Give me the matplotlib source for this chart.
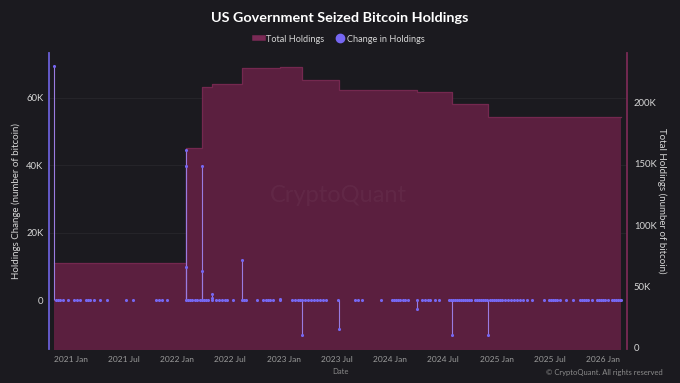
import pandas as pd
import matplotlib.pyplot as plt
from matplotlib.lines import Line2D
from matplotlib.ticker import FuncFormatter

# total holdings, step function (BTC)
holding_dates = ["2020-11-04", "2022-01-30", "2022-03-26", "2022-04-29", "2022-08-10",
                 "2022-12-19", "2023-03-06", "2023-07-08", "2024-04-02", "2024-07-31",
                 "2024-12-01", "2026-03-04"]
holding_values = [69370, 163000, 213000, 215000, 228500, 229300, 218700, 210600,
                  208700, 199000, 188600, 188600]

# change in holdings (BTC), one entry per dot
change_dates = [
    "2020-11-04", "2020-11-11", "2020-11-18", "2020-11-25", "2020-12-05", "2020-12-22",
    "2021-01-11", "2021-01-21", "2021-01-31", "2021-02-21", "2021-02-28", "2021-03-07",
    "2021-03-20", "2021-04-10", "2021-05-04", "2021-07-08", "2021-08-01",
    "2021-10-19", "2021-10-29", "2021-11-09", "2021-11-26",
    "2022-01-30", "2022-01-30", "2022-01-30", "2022-01-30",
    "2022-02-06", "2022-02-13", "2022-02-20", "2022-03-02", "2022-03-09", "2022-03-19",
    "2022-03-26", "2022-03-26", "2022-03-26",
    "2022-04-02", "2022-04-09", "2022-04-16",
    "2022-04-29", "2022-04-29", "2022-04-29",
    "2022-05-13", "2022-05-23", "2022-06-03", "2022-06-13", "2022-06-20",
    "2022-07-10", "2022-08-10", "2022-08-10", "2022-08-17", "2022-08-24", "2022-10-01",
    "2022-10-21", "2022-11-01", "2022-11-07", "2022-11-14", "2022-11-25",
    "2022-12-19", "2022-12-19",
    "2023-01-29", "2023-02-08", "2023-02-18", "2023-02-25", "2023-03-04", "2023-03-06",
    "2023-03-14", "2023-03-25", "2023-04-04", "2023-04-14", "2023-04-24", "2023-05-05",
    "2023-05-15", "2023-05-25", "2023-07-06", "2023-07-08",
    "2023-09-02", "2023-09-12", "2023-09-26", "2023-11-30",
    "2024-01-07", "2024-01-14", "2024-01-20", "2024-01-27", "2024-02-03",
    "2024-02-13", "2024-02-20", "2024-03-02", "2024-04-02", "2024-04-02",
    "2024-04-19", "2024-04-29", "2024-05-10", "2024-05-17", "2024-06-02", "2024-06-16",
    "2024-07-20", "2024-07-27", "2024-07-31", "2024-08-03", "2024-08-10", "2024-08-17",
    "2024-08-24", "2024-08-31", "2024-09-06", "2024-09-13", "2024-09-20", "2024-09-27",
    "2024-10-04", "2024-10-18", "2024-10-25", "2024-11-01", "2024-11-07", "2024-11-14",
    "2024-11-21", "2024-11-28", "2024-12-01", "2024-12-08", "2024-12-15", "2024-12-22",
    "2024-12-29", "2025-01-04", "2025-01-11", "2025-01-18", "2025-01-28", "2025-02-08",
    "2025-02-18", "2025-02-28", "2025-03-11", "2025-03-21", "2025-03-31", "2025-04-14",
    "2025-05-01", "2025-06-11", "2025-06-28", "2025-07-05", "2025-07-12", "2025-07-19",
    "2025-07-26", "2025-08-05", "2025-08-26", "2025-09-19", "2025-10-13", "2025-10-20",
    "2025-10-27", "2025-11-02", "2025-11-09", "2025-11-23", "2025-12-10", "2025-12-17",
    "2025-12-24", "2025-12-31", "2026-01-06", "2026-01-17", "2026-01-30", "2026-02-06",
    "2026-02-13", "2026-02-20", "2026-02-27", "2026-03-04",
]
change_values = [
    69370, 0, 0, 0, 0, 0,
    0, 0, 0, 0, 0, 0,
    0, 0, 0, 0, 0,
    0, 0, 0, 0,
    44400, 39700, 9800, 0,
    0, 0, 0, 0, 0, 0,
    39700, 8700, 0,
    0, 0, 0,
    1700, 600, 0,
    0, 0, 0, 0, 0,
    0, 11850, 0, 0, 0, 0,
    0, 0, 0, 0, 0,
    300, 0,
    0, 0, 0, 0, 0, -10400,
    0, 0, 0, 0, 0, 0,
    0, 0, 0, -8700,
    0, 0, 0, 0,
    0, 0, 0, 0, 0,
    0, 0, 0, -2600, 0,
    0, 0, 0, 0, 0, 0,
    0, 0, -10500, 0, 0, 0,
    0, 0, 0, 0, 0, 0,
    0, 0, 0, 0, 0, 0,
    0, 0, -10500, 0, 0, 0,
    0, 0, 0, 0, 0, 0,
    0, 0, 0, 0, 0, 0,
    0, 0, 0, 0, 0, 0,
    0, 0, 0, 0, 0, 0,
    0, 0, 0, 0, 0, 0,
    0, 0, 0, 0, 0, 0,
    0, 0, 0, 0,
]

left_ticks = [0, 20000, 40000, 60000]
right_ticks = [0, 50000, 100000, 150000, 200000]
x_tick_dates = ["2021-01-01", "2021-07-01", "2022-01-01", "2022-07-01", "2023-01-01",
                "2023-07-01", "2024-01-01", "2024-07-01", "2025-01-01", "2025-07-01",
                "2026-01-01"]
x_tick_labels = ["2021 Jan", "2021 Jul", "2022 Jan", "2022 Jul", "2023 Jan", "2023 Jul",
                 "2024 Jan", "2024 Jul", "2025 Jan", "2025 Jul", "2026 Jan"]

bg = "#1b1a1f"
fill_col = "#5b1f3f"
edge_col = "#74284f"
dot_col = "#7667f2"
stem_col = "#9a7be0"

plt.rcParams["font.family"] = ["Lato", "DejaVu Sans"]

hd = pd.to_datetime(holding_dates)
cd = pd.to_datetime(change_dates)
x0, x1 = pd.Timestamp("2020-10-18"), pd.Timestamp("2026-03-23")

fig = plt.figure(figsize=(6.8, 3.83), dpi=100, facecolor=bg)
ax = fig.add_axes([49 / 680, 1 - 349 / 383, 578 / 680, 296 / 383])
ax2 = ax.twinx()
ax.set_zorder(ax2.get_zorder() + 1)
ax.patch.set_visible(False)
ax2.set_facecolor(bg)

# holdings area
ax2.fill_between(hd, holding_values, -5000, step="post", color=fill_col, lw=0, zorder=2)
ax2.step(hd, holding_values, where="post", color=edge_col, lw=0.9, zorder=2)
ax2.set_ylim(-1000, 240500)
ax2.set_yticks(right_ticks)
ax2.yaxis.set_major_formatter(FuncFormatter(lambda v, p: "0" if v == 0 else f"{v/1000:.0f}K"))

# changes: stems + dots
nz = [(d, v) for d, v in zip(cd, change_values) if v != 0]
ax.vlines([d for d, v in nz], 0, [v for d, v in nz], color=stem_col, lw=0.8)
ax.scatter(cd, change_values, s=5, color=dot_col, zorder=3, lw=0)
ax.set_ylim(-14500, 73200)
ax.set_yticks(left_ticks)
ax.yaxis.set_major_formatter(FuncFormatter(lambda v, p: "0" if v == 0 else f"{v/1000:.0f}K"))
ax.set_xlim(x0, x1)
ax.set_xticks(pd.to_datetime(x_tick_dates))
ax.set_xticklabels(x_tick_labels)

# faint grid behind the area, at the left-axis ticks
for t in left_ticks[1:]:
    ax2.plot([x0, x1], [t, t], transform=ax.transData, color="#27262c", lw=0.6, zorder=1)

for a in (ax, ax2):
    for s in ("top", "bottom"):
        a.spines[s].set_visible(False)
    a.tick_params(length=0)
ax.spines["right"].set_visible(False)
ax.spines["left"].set_color("#6a5fd6")
ax.spines["left"].set_linewidth(1.3)
ax2.spines["left"].set_visible(False)
ax2.spines["right"].set_color("#7a2a55")
ax2.spines["right"].set_linewidth(1.3)

ax.tick_params(axis="y", labelsize=6.8, labelcolor="#d6d6d6", pad=4)
ax2.tick_params(axis="y", labelsize=6.8, labelcolor="#d6d6d6", pad=5)
ax.tick_params(axis="x", labelsize=6, labelcolor="#9a9a9a", pad=5)

ax.set_ylabel("Holdings Change (number of bitcoin)", fontsize=7, color="#d6d6d6",
              va="center")
ax.yaxis.set_label_coords(-0.057, 0.5)
ax2.set_ylabel("Total Holdings (number of bitcoin)", fontsize=7, color="#d6d6d6",
               rotation=270, va="center")
ax2.yaxis.set_label_coords(1.06, 0.5)

ax.text(0.5, 0.52, "CryptoQuant", transform=ax.transAxes, ha="center", va="center",
        fontsize=17, color="white", alpha=0.04, zorder=0)

fig.text(0.5, 1 - 18 / 383, "US Government Seized Bitcoin Holdings", ha="center",
         va="center", fontsize=10.4, fontweight="bold", color="white")
fig.text(0.5, 1 - 372 / 383, "Date", ha="center", va="center", fontsize=5.5, color="#8a8a8a")
fig.text(663 / 680, 1 - 372 / 383, "\u00a9 CryptoQuant. All rights reserved", ha="right",
         va="center", fontsize=5.5, color="#8a8a8a")

handles = [Line2D([0], [0], color="#7a2a55", lw=4),
           Line2D([0], [0], marker="o", color=dot_col, lw=0, markersize=6)]
leg = fig.legend(handles, ["Total Holdings", "Change in Holdings"], loc="center",
                 bbox_to_anchor=(0.5, 1 - 39 / 383), ncol=2, frameon=False, fontsize=6.6,
                 handlelength=0.9, handletextpad=0.3, columnspacing=1.3, labelcolor="#d6d6d6")

fig.savefig("out.png", dpi=100, facecolor=bg)
